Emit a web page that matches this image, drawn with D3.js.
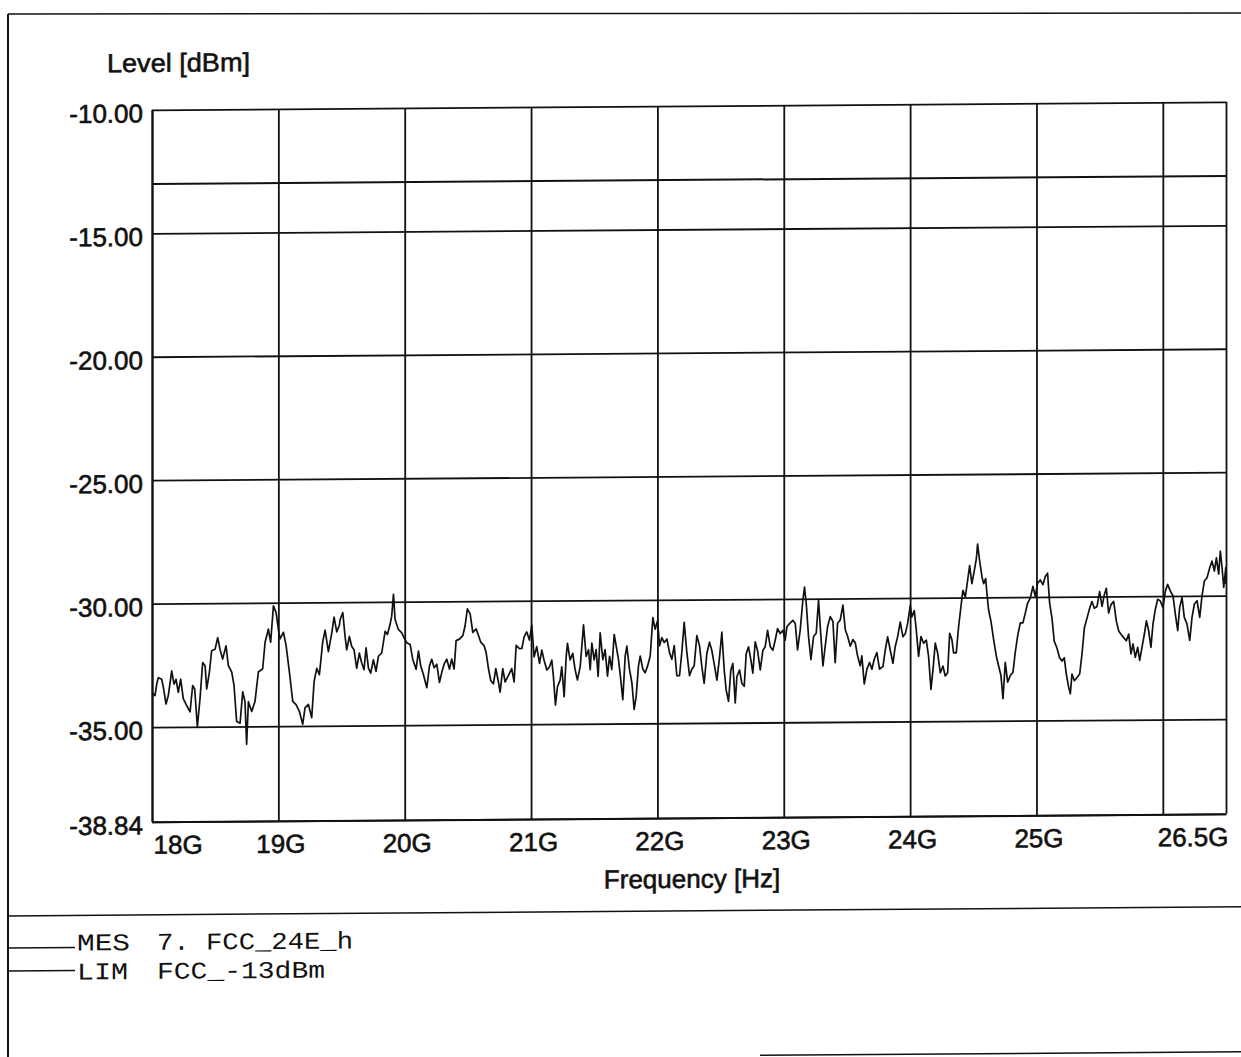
<!DOCTYPE html>
<html><head><meta charset="utf-8">
<script src="https://cdn.jsdelivr.net/npm/d3@7"></script>
<style>html,body{margin:0;padding:0;background:#fff;overflow:hidden}svg{display:block}</style>
</head><body>
<svg id="c" width="1241" height="1057"></svg>
<script>
// Measured trace: [frequency GHz, level dBm]
const traceMES = [
[18.000,-33.60],[18.024,-33.73],[18.037,-33.27],[18.050,-33.00],[18.077,-33.07],[18.090,-33.40],[18.111,-34.07],[18.129,-33.73],[18.156,-32.73],[18.174,-33.27],
[18.190,-33.07],[18.208,-33.60],[18.227,-33.07],[18.248,-33.87],[18.274,-34.13],[18.301,-34.40],[18.322,-33.33],[18.338,-33.47],[18.359,-35.00],[18.380,-33.87],
[18.401,-32.40],[18.420,-32.53],[18.433,-33.47],[18.454,-32.80],[18.472,-31.93],[18.499,-31.87],[18.520,-31.40],[18.538,-31.87],[18.559,-32.27],[18.586,-31.73],
[18.604,-32.53],[18.631,-32.80],[18.649,-33.33],[18.670,-34.80],[18.697,-34.87],[18.718,-33.60],[18.736,-34.00],[18.749,-35.73],[18.763,-34.00],[18.789,-34.40],
[18.815,-34.00],[18.842,-32.80],[18.876,-32.67],[18.895,-31.60],[18.921,-31.07],[18.939,-31.60],[18.961,-30.13],[18.982,-30.40],[19.000,-31.07],[19.013,-31.47],
[19.040,-31.20],[19.061,-31.73],[19.087,-32.80],[19.114,-34.00],[19.140,-34.13],[19.166,-34.40],[19.193,-34.93],[19.211,-34.27],[19.238,-34.13],[19.264,-34.67],
[19.283,-33.20],[19.304,-32.67],[19.325,-32.93],[19.351,-31.60],[19.370,-31.13],[19.396,-32.00],[19.422,-31.27],[19.441,-30.60],[19.462,-31.20],[19.483,-30.93],
[19.488,-30.72],[19.510,-30.42],[19.528,-31.39],[19.541,-31.93],[19.562,-31.39],[19.581,-31.80],[19.599,-31.93],[19.620,-32.68],[19.641,-32.07],[19.660,-32.47],
[19.678,-32.74],[19.694,-31.86],[19.713,-32.68],[19.731,-32.88],[19.752,-32.34],[19.773,-32.81],[19.792,-32.20],[19.818,-32.07],[19.845,-31.19],[19.863,-31.32],
[19.884,-30.92],[19.897,-30.58],[19.911,-29.70],[19.924,-30.72],[19.950,-31.12],[19.977,-31.26],[19.995,-31.46],[20.016,-31.66],[20.043,-31.73],[20.064,-32.34],
[20.090,-32.74],[20.109,-32.00],[20.127,-32.61],[20.148,-32.95],[20.175,-33.49],[20.196,-32.61],[20.214,-32.34],[20.233,-32.68],[20.254,-32.54],[20.275,-33.28],
[20.293,-32.88],[20.312,-32.54],[20.333,-32.34],[20.354,-32.74],[20.372,-32.34],[20.391,-32.74],[20.407,-31.59],[20.433,-31.53],[20.460,-31.39],[20.478,-30.99],
[20.496,-30.31],[20.518,-30.51],[20.539,-31.26],[20.565,-31.12],[20.584,-31.39],[20.602,-31.66],[20.628,-31.80],[20.644,-32.07],[20.663,-32.74],[20.681,-33.22],
[20.702,-33.35],[20.721,-32.74],[20.742,-33.28],[20.755,-33.69],[20.776,-32.74],[20.795,-33.28],[20.821,-33.01],[20.847,-32.74],[20.866,-33.28],[20.882,-31.80],
[20.908,-31.93],[20.927,-31.93],[20.945,-31.46],[20.966,-31.26],[20.987,-31.59],[21.006,-30.99],[21.024,-32.27],[21.045,-31.86],[21.067,-32.54],[21.085,-32.00],
[21.103,-32.41],[21.125,-32.81],[21.146,-32.68],[21.164,-32.41],[21.177,-33.08],[21.193,-34.23],[21.209,-33.49],[21.230,-33.22],[21.243,-32.68],[21.262,-33.89],
[21.278,-32.27],[21.288,-31.73],[21.309,-32.41],[21.330,-32.14],[21.349,-32.81],[21.367,-33.22],[21.389,-32.68],[21.402,-31.86],[21.415,-30.99],[21.436,-32.27],
[21.455,-32.00],[21.468,-32.81],[21.481,-31.73],[21.499,-32.41],[21.515,-32.00],[21.531,-33.08],[21.547,-31.32],[21.568,-32.41],[21.586,-32.00],[21.605,-33.08],
[21.621,-32.27],[21.639,-32.81],[21.658,-31.39],[21.674,-31.86],[21.692,-32.41],[21.710,-33.22],[21.726,-34.03],[21.745,-32.27],[21.758,-31.86],[21.779,-32.81],
[21.798,-33.35],[21.816,-34.43],[21.832,-33.89],[21.850,-32.68],[21.864,-32.27],[21.885,-32.81],[21.903,-32.95],[21.922,-32.68],[21.943,-32.27],[21.964,-30.72],
[21.982,-31.19],[22.001,-30.85],[22.017,-31.86],[22.035,-31.53],[22.054,-31.73],[22.075,-31.59],[22.096,-32.14],[22.114,-32.41],[22.133,-31.86],[22.154,-33.08],
[22.175,-33.08],[22.193,-32.14],[22.212,-30.92],[22.233,-32.14],[22.254,-33.08],[22.273,-32.81],[22.291,-32.68],[22.312,-31.46],[22.333,-31.86],[22.352,-32.73],
[22.370,-33.40],[22.391,-32.20],[22.412,-31.73],[22.431,-32.07],[22.449,-32.60],[22.471,-33.27],[22.492,-32.33],[22.510,-31.33],[22.529,-32.87],[22.544,-33.67],
[22.563,-34.13],[22.581,-32.87],[22.597,-32.60],[22.616,-34.20],[22.629,-33.13],[22.650,-32.87],[22.668,-33.40],[22.687,-33.53],[22.703,-32.20],[22.721,-31.93],
[22.740,-32.47],[22.755,-33.00],[22.774,-31.73],[22.792,-32.07],[22.814,-32.87],[22.835,-32.07],[22.853,-31.93],[22.872,-31.27],[22.893,-31.93],[22.914,-32.07],
[22.932,-31.67],[22.951,-31.20],[22.972,-31.40],[22.993,-31.27],[23.011,-31.67],[23.025,-31.13],[23.046,-31.00],[23.072,-30.87],[23.091,-31.00],[23.109,-32.07],
[23.130,-31.27],[23.151,-30.07],[23.164,-29.53],[23.178,-30.20],[23.196,-31.53],[23.215,-32.47],[23.236,-31.53],[23.257,-31.40],[23.275,-30.07],[23.294,-31.53],
[23.310,-32.73],[23.328,-31.93],[23.347,-31.13],[23.368,-30.73],[23.389,-30.93],[23.407,-32.60],[23.426,-31.00],[23.447,-30.87],[23.468,-30.27],[23.487,-31.27],
[23.505,-31.53],[23.526,-31.93],[23.547,-31.67],[23.566,-31.80],[23.584,-32.33],[23.605,-32.73],[23.618,-32.33],[23.637,-33.47],[23.658,-32.87],[23.679,-32.60],
[23.698,-32.87],[23.716,-32.47],[23.737,-32.20],[23.758,-32.87],[23.785,-32.77],[23.803,-32.11],[23.822,-31.57],[23.843,-32.11],[23.864,-32.64],[23.882,-31.97],
[23.901,-31.57],[23.922,-30.97],[23.943,-31.57],[23.962,-31.44],[23.980,-31.04],[24.001,-30.31],[24.014,-30.77],[24.033,-30.51],[24.049,-31.31],[24.067,-32.37],
[24.086,-31.57],[24.107,-31.84],[24.128,-31.71],[24.146,-32.37],[24.165,-33.71],[24.181,-32.91],[24.199,-31.84],[24.218,-32.24],[24.239,-33.04],[24.260,-32.77],
[24.278,-33.17],[24.297,-33.04],[24.313,-31.44],[24.331,-31.71],[24.344,-32.24],[24.365,-32.24],[24.384,-31.17],[24.402,-30.37],[24.418,-29.71],[24.437,-29.97],
[24.455,-29.31],[24.471,-28.71],[24.489,-29.44],[24.508,-28.91],[24.524,-28.44],[24.534,-27.84],[24.550,-28.51],[24.569,-29.17],[24.582,-29.44],[24.598,-29.24],
[24.608,-29.84],[24.621,-30.51],[24.640,-30.97],[24.661,-31.71],[24.682,-32.37],[24.700,-32.77],[24.719,-33.17],[24.735,-34.11],[24.753,-32.64],[24.772,-33.44],
[24.793,-33.17],[24.814,-33.04],[24.832,-32.24],[24.851,-31.57],[24.872,-31.04],[24.893,-31.04],[24.912,-30.64],[24.930,-30.24],[24.951,-30.04],[24.972,-29.57],
[24.991,-29.97],[25.009,-29.44],[25.030,-29.31],[25.051,-29.50],[25.070,-29.17],[25.088,-29.04],[25.104,-30.24],[25.123,-30.87],[25.141,-31.80],[25.162,-32.07],
[25.183,-32.47],[25.202,-32.60],[25.220,-32.47],[25.236,-33.13],[25.255,-33.67],[25.268,-33.93],[25.281,-33.13],[25.300,-33.40],[25.321,-33.27],[25.342,-33.13],
[25.360,-32.33],[25.379,-31.27],[25.400,-30.87],[25.421,-30.47],[25.439,-30.20],[25.458,-30.47],[25.479,-30.40],[25.500,-29.80],[25.519,-30.40],[25.537,-29.93],
[25.553,-29.67],[25.571,-30.67],[25.590,-30.33],[25.611,-30.20],[25.632,-31.00],[25.651,-31.40],[25.669,-31.53],[25.690,-31.67],[25.711,-31.80],[25.730,-31.53],
[25.748,-32.33],[25.764,-31.93],[25.782,-32.47],[25.801,-32.07],[25.817,-32.60],[25.835,-32.07],[25.854,-31.53],[25.870,-31.00],[25.888,-31.40],[25.906,-32.07],
[25.922,-31.13],[25.941,-30.53],[25.959,-30.13],[25.980,-30.20],[26.001,-30.47],[26.020,-29.80],[26.038,-29.53],[26.060,-29.80],[26.081,-30.00],[26.099,-30.73],
[26.118,-31.40],[26.133,-30.47],[26.152,-30.07],[26.170,-30.87],[26.191,-31.13],[26.213,-31.80],[26.231,-30.87],[26.250,-30.33],[26.271,-30.20],[26.292,-30.87],
[26.310,-30.00],[26.329,-29.40],[26.350,-29.27],[26.371,-28.87],[26.389,-28.60],[26.408,-29.00],[26.424,-28.47],[26.442,-29.13],[26.455,-28.20],[26.469,-28.87],
[26.482,-29.67],[26.498,-28.87],[26.500,-29.53]
];
const limitFreq = [18, 26.5];
const limitLevel = [-13, -13];
const xTickValues = [18, 19, 20, 21, 22, 23, 24, 25, 26, 26.5];
const xTickLabels = ["18G", "19G", "20G", "21G", "22G", "23G", "24G", "25G", "", "26.5G"];
const yTickValues = [-38.84, -35, -30, -25, -20, -15, -10];
const yTickLabels = ["-38.84", "-35.00", "-30.00", "-25.00", "-20.00", "-15.00", "-10.00"];
const yTitle = "Level [dBm]";
const xTitle = "Frequency [Hz]";
const legendKeys = ["MES", "LIM"];
const legendNames = ["7. FCC_24E_h", "FCC_-13dBm"];

(function () {
const svg = d3.select("#c");
const W = 1241, H = 1057;
svg.append("rect").attr("width", W).attr("height", H).attr("fill", "#fff");
const ink = "#111";
// top page edge (straight)
svg.append("line").attr("x1", 8).attr("x2", W).attr("y1", 14).attr("y2", 13).attr("stroke", ink).attr("stroke-width", 1.5);
// slight skew of the scanned sheet
const page = svg.append("g").attr("transform", "skewY(-0.427)");

const pL = 152, pR = 1226, pT = 111, pB = 823;
const x = d3.scaleLinear().domain([18, 26.5]).range([pL, pR]);
const y = d3.scaleLinear().domain([-38.84, -10]).range([pB, pT]);
const sans = "'Liberation Sans', Arial, Helvetica, sans-serif";
const mono = "'Liberation Mono', 'Courier New', Courier, monospace";

// page frame
page.append("line").attr("x1", 8).attr("x2", 8).attr("y1", 14).attr("y2", H + 20).attr("stroke", ink).attr("stroke-width", 2);
page.append("line").attr("x1", 8).attr("x2", W + 20).attr("y1", 916).attr("y2", 916).attr("stroke", ink).attr("stroke-width", 1.5);
page.append("line").attr("x1", 760).attr("x2", W + 20).attr("y1", 1061).attr("y2", 1061).attr("stroke", ink).attr("stroke-width", 1.5);

// y axis with grid
const yAxis = d3.axisLeft(y).tickValues(yTickValues).tickSize(-(pR - pL)).tickSizeOuter(0)
  .tickPadding(9).tickFormat((d, i) => yTickLabels[i]);
const gy = page.append("g").attr("transform", `translate(${pL},0)`).call(yAxis);
gy.select(".domain").attr("stroke", ink).attr("stroke-width", 2);
gy.selectAll(".tick line").attr("stroke", ink).attr("stroke-width", 1.8);
gy.selectAll(".tick text").attr("dy", null).attr("y", 12)
  .attr("font-family", sans).attr("font-size", 26).attr("fill", ink)
  .attr("stroke", ink).attr("stroke-width", 0.6);

// x axis with grid
const xAxis = d3.axisBottom(x).tickValues(xTickValues).tickSize(-(pB - pT)).tickSizeOuter(0)
  .tickFormat((d, i) => xTickLabels[i]);
const gx = page.append("g").attr("transform", `translate(0,${pB})`).call(xAxis);
gx.select(".domain").attr("stroke", ink).attr("stroke-width", 2);
gx.selectAll(".tick line").attr("stroke", ink).attr("stroke-width", 1.8);
const nX = xTickValues.length;
gx.selectAll(".tick text").attr("dy", null).attr("y", 32)
  .attr("font-family", sans).attr("font-size", 26).attr("fill", ink)
  .attr("stroke", ink).attr("stroke-width", 0.6)
  .attr("text-anchor", (d, i) => i === 0 ? "start" : (i === nX - 1 ? "end" : "middle"))
  .attr("dx", (d, i) => i === 0 ? 1 : 2);

// titles
page.append("text").attr("x", 107).attr("y", 73).attr("font-family", sans).attr("font-size", 26)
  .attr("textLength", 143).attr("lengthAdjust", "spacingAndGlyphs").attr("fill", ink)
  .attr("stroke", ink).attr("stroke-width", 0.6).text(yTitle);
page.append("text").attr("x", 692).attr("y", 893).attr("text-anchor", "middle").attr("font-family", sans)
  .attr("font-size", 26).attr("fill", ink).attr("stroke", ink).attr("stroke-width", 0.6).text(xTitle);

// limit line
const limitData = limitFreq.map((f, i) => [f, limitLevel[i]]);
const lineGen = d3.line().x(d => x(d[0])).y(d => y(d[1]));
page.append("path").datum(limitData).attr("d", lineGen).attr("fill", "none").attr("stroke", ink).attr("stroke-width", 2);

// measurement trace
page.append("path").datum(traceMES).attr("d", lineGen).attr("fill", "none")
  .attr("stroke", ink).attr("stroke-width", 1.7).attr("stroke-linejoin", "round");

// legend
const legY = [948, 971];
const legBase = [951, 980];
const keyLen = [53, 51];
const nameLen = [196, 168];
legendKeys.forEach((k, i) => {
  page.append("line").attr("x1", 8).attr("x2", 75).attr("y1", legY[i]).attr("y2", legY[i]).attr("stroke", ink).attr("stroke-width", 1.5);
  page.append("text").attr("x", 77).attr("y", legBase[i]).attr("font-family", mono).attr("font-size", 24)
    .attr("textLength", keyLen[i]).attr("lengthAdjust", "spacingAndGlyphs").attr("fill", ink).text(k);
  page.append("text").attr("x", 157).attr("y", legBase[i]).attr("font-family", mono).attr("font-size", 24)
    .attr("textLength", nameLen[i]).attr("lengthAdjust", "spacingAndGlyphs").attr("fill", ink).text(legendNames[i]);
});
})();
</script>
</body></html>
